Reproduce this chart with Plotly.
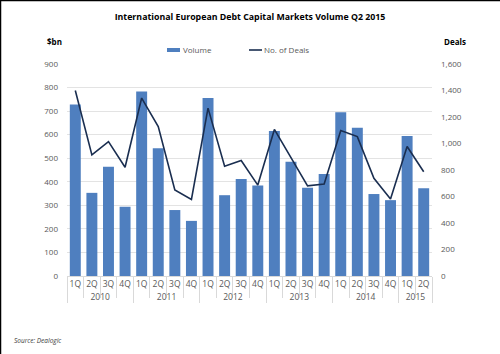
import plotly.graph_objects as go

years = ["2010"]*4 + ["2011"]*4 + ["2012"]*4 + ["2013"]*4 + ["2014"]*4 + ["2015"]*2
quarters = ["1Q", "2Q", "3Q", "4Q"]*5 + ["1Q", "2Q"]
volume = [728, 353, 464, 294, 783, 542, 280, 234, 756, 343, 412, 384,
          616, 485, 375, 433, 695, 629, 348, 322, 594, 372]
deals = [1400, 914, 1014, 821, 1343, 1128, 649, 578, 1267, 828, 872, 686,
         1106, 898, 680, 694, 1098, 1052, 737, 581, 977, 787]

W, H = 500, 354
ml, mr, mt, mb = 67, 68, 64, 78
bar_color = "#4f7fbf"
line_color = "#1a2e50"

fig = go.Figure()
fig.add_trace(go.Bar(x=[years, quarters], y=volume, name="Volume",
                     marker=dict(color=bar_color, line=dict(width=0)), yaxis="y"))
fig.add_trace(go.Scatter(x=[years, quarters], y=deals, name="No. of Deals", mode="lines",
                         line=dict(color=line_color, width=1.6), yaxis="y2"))

font = "Open Sans, Liberation Sans, sans-serif"
fig.update_layout(
    width=W, height=H,
    margin=dict(l=ml, r=mr, t=mt, b=mb),
    paper_bgcolor="white", plot_bgcolor="white",
    font=dict(family=font, size=8, color="#595959"),
    bargap=0.34,
    showlegend=False,
    title=dict(text="<b>International European Debt Capital Markets Volume Q2 2015</b>",
               x=0.5, xanchor="center", y=1 - 17/H, yanchor="middle",
               font=dict(size=8.8, color="#000000", family=font)),
    xaxis=dict(type="multicategory", showgrid=False, ticks="outside", tickson="boundaries",
               ticklen=21, tickcolor="#d9d9d9", showline=True, linecolor="#d9d9d9",
               showdividers=True, dividercolor="#d9d9d9", dividerwidth=1, tickangle=0,
               tickfont=dict(size=8.5, color="#595959")),
    yaxis=dict(range=[0, 900], dtick=100, showgrid=True, gridcolor="#e3e3e3", gridwidth=1,
               zeroline=False, showline=False, ticks="", tickfont=dict(size=8, color="#595959"),
               ticklabelstandoff=8),
    yaxis2=dict(range=[0, 1600], dtick=200, overlaying="y", side="right", showgrid=False,
                zeroline=False, showline=False, tickformat=",", ticks="",
                tickfont=dict(size=8, color="#595959"), ticklabelstandoff=8),
)

pw = W - ml - mr
ph = H - mt - mb
def px(x):
    return (x - ml) / pw
def py(y):
    return (H - mb - y) / ph

# axis titles
fig.add_annotation(text="<b>$bn</b>", x=px(45), y=py(41), xref="paper", yref="paper",
                   xanchor="left", yanchor="middle", showarrow=False,
                   font=dict(size=8, color="#000000"))
fig.add_annotation(text="<b>Deals</b>", x=px(442), y=py(41), xref="paper", yref="paper",
                   xanchor="left", yanchor="middle", showarrow=False,
                   font=dict(size=8, color="#000000"))
# legend
fig.add_shape(type="rect", xref="paper", yref="paper", x0=px(167), x1=px(180), y0=py(52), y1=py(48),
              fillcolor=bar_color, line=dict(width=0))
fig.add_annotation(text="Volume", x=px(181), y=py(50), xref="paper", yref="paper",
                   xanchor="left", yanchor="middle", showarrow=False,
                   font=dict(size=8, color="#595959"))
fig.add_shape(type="line", xref="paper", yref="paper", x0=px(249), x1=px(262), y0=py(50), y1=py(50),
              line=dict(color=line_color, width=1.6))
fig.add_annotation(text="No. of Deals", x=px(262), y=py(50), xref="paper", yref="paper",
                   xanchor="left", yanchor="middle", showarrow=False,
                   font=dict(size=8, color="#595959"))
# source
fig.add_annotation(text="<i>Source: Dealogic</i>", x=px(12), y=py(340), xref="paper", yref="paper",
                   xanchor="left", yanchor="middle", showarrow=False,
                   font=dict(size=6.5, color="#404040"))
# frame (top and left edges)
fig.add_shape(type="line", xref="paper", yref="paper", x0=px(0), x1=px(W), y0=py(0.5), y1=py(0.5),
              line=dict(color="#000000", width=1.5), layer="above")
fig.add_shape(type="line", xref="paper", yref="paper", x0=px(0.5), x1=px(0.5), y0=py(0), y1=py(H),
              line=dict(color="#000000", width=1.5), layer="above")

fig.write_html("out.html")
